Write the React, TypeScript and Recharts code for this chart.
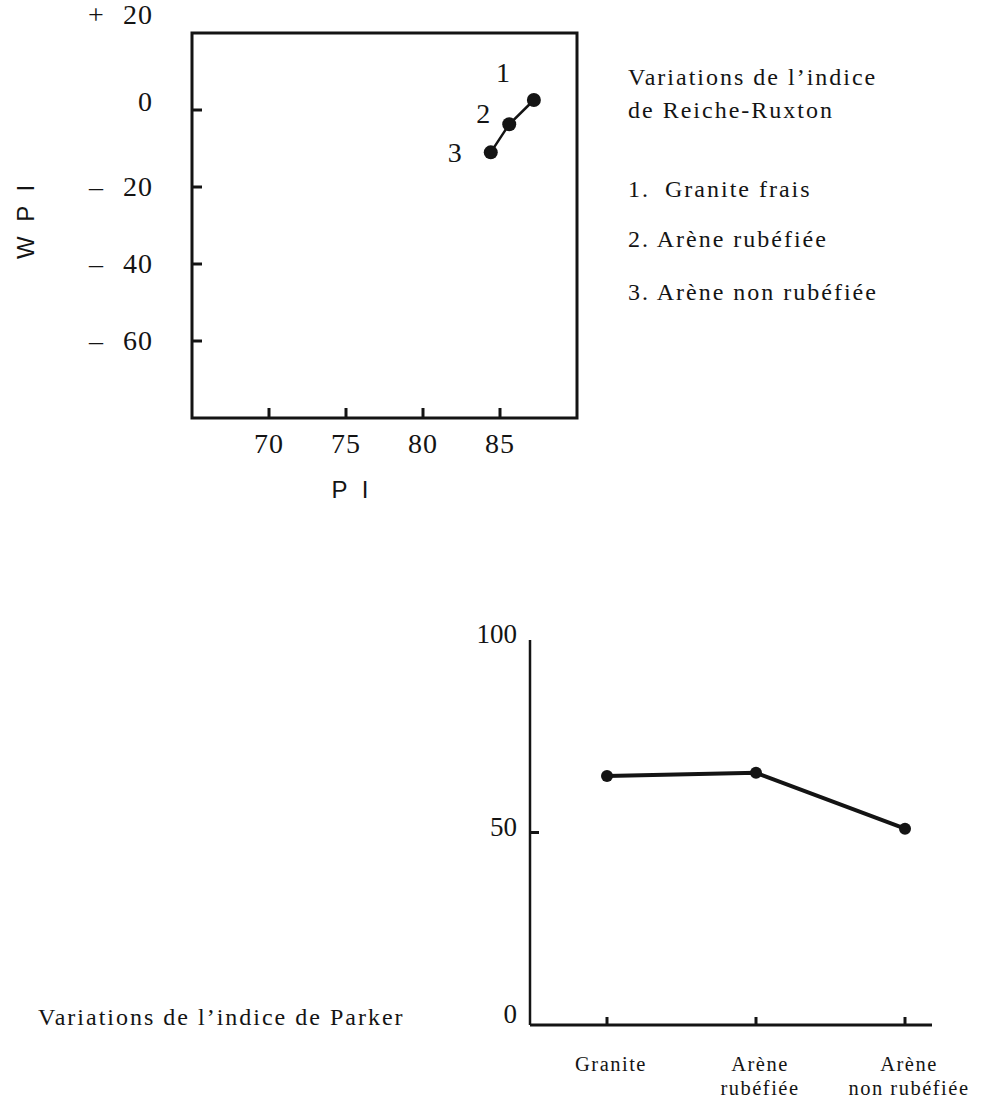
import React from "react";
import { LineChart, Line, XAxis, YAxis, ReferenceArea, LabelList } from "recharts";

// ---- Data: Reiche-Ruxton (top) ----
const pointLabels = ["1", "2", "3"];
const piValues = [87.2, 85.6, 84.4];
const wpiValues = [2.6, -3.7, -11];
const piTicks = [70, 75, 80, 85];
const wpiTicks = [20, 0, -20, -40, -60];

// ---- Data: Parker (bottom) ----
const parkerCategories = ["Granite", "Arène rubéfiée", "Arène non rubéfiée"];
const parkerValues = [64.7, 65.5, 51];
const parkerTicks = [0, 50, 100];

// ---- Texts ----
const legendTitle = ["Variations de l’indice", "de Reiche-Ruxton"];
const legendItems = ["Granite frais", "Arène rubéfiée", "Arène non rubéfiée"];
const parkerTitle = "Variations de l’indice de Parker";
const wpiAxisTitle = "W P I";
const piAxisTitle = "P I";

const serif = "'Liberation Serif', 'Times New Roman', serif";
const sans = "'Liberation Sans', Arial, sans-serif";
const ink = "#141414";

const WpiTick = (props: any) => {
  const { x, y, payload } = props;
  const v = payload.value as number;
  const shift = v === 20 ? -18 : v === 0 ? -8 : 0;
  const sign = v > 0 ? "+" : v < 0 ? "–" : "";
  return (
    <g>
      {v !== 20 && <line x1={x} y1={y} x2={x + 10} y2={y} stroke={ink} strokeWidth={3} />}
      {sign && (
        <text x={x - 96} y={y + shift + 9} textAnchor="middle" fontFamily={serif} fontSize={28} fill={ink}>
          {sign}
        </text>
      )}
      <text x={x - 39} y={y + shift + 9} textAnchor="end" fontFamily={serif} fontSize={28} fill={ink} letterSpacing={1}>
        {Math.abs(v)}
      </text>
    </g>
  );
};

const PiTick = (props: any) => {
  const { x, y, payload } = props;
  return (
    <g>
      <line x1={x} y1={y} x2={x} y2={y - 10} stroke={ink} strokeWidth={3} />
      <text x={x} y={y + 35} textAnchor="middle" fontFamily={serif} fontSize={28} fill={ink} letterSpacing={1}>
        {payload.value}
      </text>
    </g>
  );
};

const labelOffsets = [
  { dx: -31, dy: -27 },
  { dx: -26, dy: -10 },
  { dx: -36, dy: 1 },
];

const renderPointLabel = (props: any) => {
  const { x, y, value, index } = props;
  const o = labelOffsets[index] || { dx: -25, dy: 0 };
  return (
    <text x={x + o.dx} y={y + o.dy + 9} textAnchor="middle" fontFamily={serif} fontSize={28} fill={ink}>
      {value}
    </text>
  );
};

const ParkerYTick = (props: any) => {
  const { x, y, payload } = props;
  const v = payload.value as number;
  const shift = v === 0 ? -11 : -6;
  return (
    <g>
      {v === 50 && <line x1={x} y1={y} x2={x + 9} y2={y} stroke={ink} strokeWidth={3} />}
      <text x={x - 13} y={y + shift + 9} textAnchor="end" fontFamily={serif} fontSize={27} fill={ink}>
        {v}
      </text>
    </g>
  );
};

const ParkerXTick = (props: any) => {
  const { x, y, payload } = props;
  const name = String(payload.value);
  const idx = name.indexOf(" ");
  const lines = idx < 0 ? [name] : [name.slice(0, idx), name.slice(idx + 1)];
  return (
    <g>
      <line x1={x} y1={y} x2={x} y2={y - 8} stroke={ink} strokeWidth={3} />
      {lines.map((l, i) => (
        <text key={i} x={x + 4} y={y + 46 + i * 24} textAnchor="middle" fontFamily={serif} fontSize={20.5} fill={ink} letterSpacing={1.5}>
          {l}
        </text>
      ))}
    </g>
  );
};

function ReicheChart() {
  const data = pointLabels.map((label, i) => ({ label, pi: piValues[i], wpi: wpiValues[i] }));
  return (
    <LineChart width={620} height={520} data={data} margin={{ top: 33, right: 43, bottom: 0, left: 0 }}>
      <ReferenceArea x1={65} x2={90} y1={-80} y2={20} fill="none" fillOpacity={0} stroke={ink} strokeWidth={3} ifOverflow="visible" />
      <XAxis
        dataKey="pi"
        type="number"
        domain={[65, 90]}
        ticks={piTicks}
        interval={0}
        height={102}
        tickSize={0}
        tickMargin={0}
        tickLine={false}
        axisLine={false}
        tick={<PiTick />}
        allowDataOverflow
      />
      <YAxis
        type="number"
        domain={[-80, 20]}
        ticks={wpiTicks}
        interval={0}
        width={192}
        tickSize={0}
        tickMargin={0}
        tickLine={false}
        axisLine={false}
        tick={<WpiTick />}
        allowDataOverflow
      />
      <Line
        type="linear"
        dataKey="wpi"
        stroke={ink}
        strokeWidth={2.5}
        dot={{ r: 7, fill: ink, stroke: ink, strokeWidth: 0 }}
        isAnimationActive={false}
      >
        <LabelList dataKey="label" content={renderPointLabel} />
      </Line>
    </LineChart>
  );
}

function ParkerChart() {
  const data = parkerCategories.map((name, i) => ({ name, value: parkerValues[i] }));
  return (
    <LineChart width={983} height={528} data={data} margin={{ top: 60, right: 51, bottom: 0, left: 0 }}>
      <XAxis
        dataKey="name"
        type="category"
        padding={{ left: 77, right: 27 }}
        interval={0}
        height={83}
        tickSize={0}
        tickMargin={0}
        tickLine={false}
        axisLine={{ stroke: ink, strokeWidth: 3 }}
        tick={<ParkerXTick />}
      />
      <YAxis
        type="number"
        domain={[0, 100]}
        ticks={parkerTicks}
        interval={0}
        width={530}
        tickSize={0}
        tickMargin={0}
        tickLine={false}
        axisLine={{ stroke: ink, strokeWidth: 2.5 }}
        tick={<ParkerYTick />}
      />
      <Line
        type="linear"
        dataKey="value"
        stroke={ink}
        strokeWidth={4}
        dot={{ r: 6, fill: ink, stroke: ink, strokeWidth: 0 }}
        isAnimationActive={false}
      />
    </LineChart>
  );
}

export default function App() {
  return (
    <div style={{ position: "absolute", left: 0, top: 0, width: 983, height: 1108, background: "#fff", overflow: "hidden" }}>
      <div style={{ position: "absolute", left: 0, top: 0 }}>
        <ReicheChart />
      </div>
      <div style={{ position: "absolute", left: 0, top: 580 }}>
        <ParkerChart />
      </div>
      <svg width={983} height={1108} style={{ position: "absolute", left: 0, top: 0, pointerEvents: "none" }}>
        <g fontFamily={serif} fontSize={24} fill={ink} letterSpacing={2}>
          <text x={628} y={85}>{legendTitle[0]}</text>
          <text x={628} y={118}>{legendTitle[1]}</text>
          <text x={628} y={197}>1.</text>
          <text x={665} y={197}>{legendItems[0]}</text>
          <text x={628} y={247}>{"2. " + legendItems[1]}</text>
          <text x={628} y={300}>{"3. " + legendItems[2]}</text>
          <text x={38} y={1025}>{parkerTitle}</text>
        </g>
        <text
          transform="translate(25,220) rotate(-90)"
          textAnchor="middle"
          dominantBaseline="central"
          fontFamily={sans}
          fontSize={24}
          letterSpacing={4}
          fill={ink}
        >
          {wpiAxisTitle}
        </text>
        <text x={352} y={498} textAnchor="middle" fontFamily={sans} fontSize={24} letterSpacing={4} fill={ink}>
          {piAxisTitle}
        </text>
      </svg>
    </div>
  );
}
